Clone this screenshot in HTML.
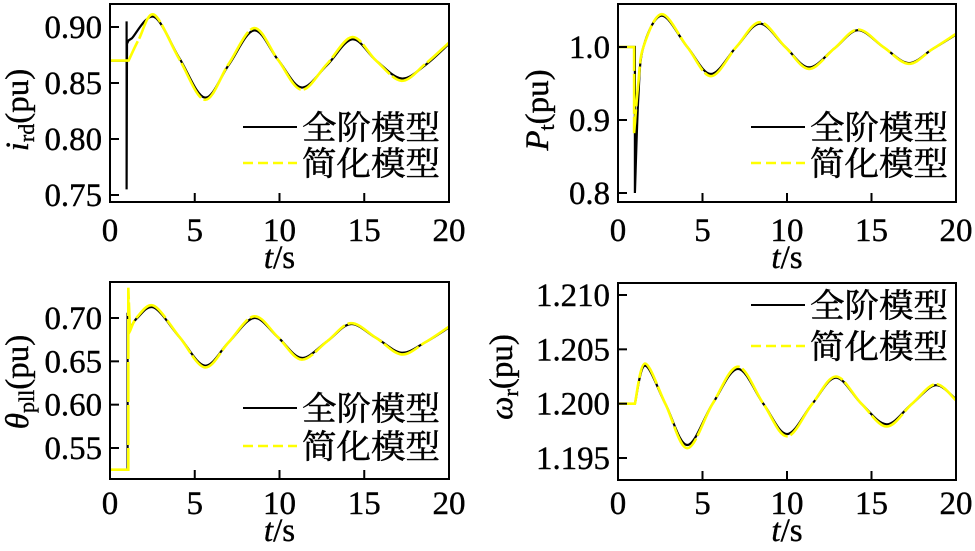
<!DOCTYPE html>
<html><head><meta charset="utf-8"><style>
html,body{margin:0;padding:0;background:#fff;}
svg{display:block;}
text{font-family:"Liberation Serif","Noto Serif CJK SC",serif;fill:#000;}
.tk{font-size:33px;stroke:#000;stroke-width:0.4px;}
.lg{font-size:33px;font-family:"Liberation Serif","Noto Serif CJK SC",serif;stroke:#000;stroke-width:0.5px;}
</style></head><body>
<svg id="chart" width="975" height="551" viewBox="0 0 975 551"></svg>
<script>
// ---- data ----
const xTicks = [0,5,10,15,20];
const xTickLabels = ["0","5","10","15","20"];
// panel 1: i_rd
const p1Ticks = [0.75,0.80,0.85,0.90];
const p1TickLabels = ["0.75","0.80","0.85","0.90"];
const p1FullTransT = [0,0.98,0.98,0.98,1.0,1.1,1.3];
const p1FullTransV = [0.87,0.87,0.905,0.755,0.885,0.888,0.890];
const p1FullT = [1.3,2.6,4.1,5.6,7.0,8.5,9.9,11.3,12.8,14.3,15.7,17.2,18.6,20];
const p1FullV = [0.890,0.909,0.872,0.837,0.866,0.897,0.871,0.846,0.866,0.889,0.870,0.854,0.866,0.885];
const p1SimpTransT = [0,1.1];
const p1SimpTransV = [0.87,0.87];
const p1SimpT = [1.1,1.7,2.6,4.1,5.6,7.0,8.5,9.9,11.3,12.8,14.3,15.7,17.2,18.6,20];
const p1SimpV = [0.870,0.889,0.911,0.871,0.835,0.867,0.899,0.871,0.844,0.867,0.891,0.870,0.852,0.867,0.886];
// panel 2: P_t
const p2Ticks = [0.8,0.9,1.0];
const p2TickLabels = ["0.8","0.9","1.0"];
const p2FullTransT = [0,1.0,1.0];
const p2FullTransV = [1.0,1.0,0.8];
const p2FullT = [1.0,1.2,1.5,2.6,4.1,5.5,7.0,8.4,9.9,11.3,12.8,14.2,15.7,17.2,18.6,20];
const p2FullV = [0.8,0.93,1.0,1.043,1.0,0.963,1.0,1.032,1.0,0.972,0.998,1.023,1.0,0.978,0.997,1.017];
const p2SimpTransT = [0,0.95,0.95];
const p2SimpTransV = [1.0,1.0,0.882];
const p2SimpT = [0.95,1.2,1.5,2.6,4.1,5.5,7.0,8.4,9.9,11.3,12.8,14.2,15.7,17.2,18.6,20];
const p2SimpV = [0.882,0.95,1.0,1.045,1.0,0.960,1.0,1.034,1.0,0.970,0.998,1.024,1.0,0.977,0.997,1.018];
// panel 3: theta_pll
const p3Ticks = [0.55,0.60,0.65,0.70];
const p3TickLabels = ["0.55","0.60","0.65","0.70"];
const p3FullTransT = [0,1.04,1.04,1.2];
const p3FullTransV = [0.525,0.525,0.706,0.688];
const p3FullT = [1.2,1.6,2.6,4.1,5.6,7.0,8.5,9.9,11.3,12.8,14.2,15.7,17.2,18.6,20];
const p3FullV = [0.688,0.700,0.712,0.678,0.645,0.672,0.700,0.678,0.654,0.673,0.693,0.677,0.660,0.672,0.689];
const p3SimpTransT = [0,1.08,1.08,1.18];
const p3SimpTransV = [0.525,0.525,0.735,0.685];
const p3SimpT = [1.18,1.6,2.6,4.1,5.6,7.0,8.5,9.9,11.3,12.8,14.2,15.7,17.2,18.6,20];
const p3SimpV = [0.685,0.701,0.714,0.678,0.643,0.672,0.702,0.678,0.652,0.673,0.694,0.677,0.658,0.672,0.690];
// panel 4: omega_r
const p4Ticks = [1.195,1.200,1.205,1.210];
const p4TickLabels = ["1.195","1.200","1.205","1.210"];
const p4FullTransT = [0,1.0];
const p4FullTransV = [1.2,1.2];
const p4FullT = [1.0,1.6,2.8,4.1,5.6,7.1,8.6,10.0,11.5,12.9,14.4,15.9,17.4,18.8,20];
const p4FullV = [1.2000,1.2035,1.2000,1.1962,1.2000,1.2032,1.2000,1.1972,1.2000,1.2024,1.2000,1.1981,1.2000,1.2017,1.2004];
const p4SimpTransT = [0,1.0];
const p4SimpTransV = [1.2,1.2];
const p4SimpT = [1.0,1.6,2.8,4.1,5.6,7.1,8.6,10.0,11.5,12.9,14.4,15.9,17.4,18.8,20];
const p4SimpV = [1.2000,1.2037,1.2000,1.1959,1.2000,1.2034,1.2000,1.1970,1.2000,1.2025,1.2000,1.1979,1.2000,1.2018,1.2003];

const NS = "http://www.w3.org/2000/svg";
const svg = document.getElementById("chart");
function mk(tag, attrs, parent){
  const e = document.createElementNS(NS, tag);
  for (const k in attrs) e.setAttribute(k, attrs[k]);
  (parent||svg).appendChild(e);
  return e;
}
function linScale(d0,d1,r0,r1){return v=>r0+(v-d0)/(d1-d0)*(r1-r0);}
function numWidth(s){let w=0;for(const c of s){w+= (c==='.')?8:16.5;}return w;}

const panels = [
  {name:"ird-panel", L:110,R:449,T:4,B:202, yA:0.90,yAp:27, yB:0.75,yBp:195, ticks:p1Ticks, labels:p1TickLabels,
   ft:p1FullTransT,fv:p1FullTransV,fT:p1FullT,fV:p1FullV, st:p1SimpTransT,sv:p1SimpTransV,sT:p1SimpT,sV:p1SimpV,
   leg1:127,leg2:163, ylab:["i","rd"], ylx:28, yly:110, tl:230},
  {name:"pt-panel", L:618,R:956,T:4,B:202, yA:1.0,yAp:47, yB:0.8,yBp:193, ticks:p2Ticks, labels:p2TickLabels,
   ft:p2FullTransT,fv:p2FullTransV,fT:p2FullT,fV:p2FullV, st:p2SimpTransT,sv:p2SimpTransV,sT:p2SimpT,sV:p2SimpV,
   leg1:127,leg2:163, ylab:["P","t"], ylx:548, yly:110, tl:230},
  {name:"theta-panel", L:110,R:449,T:282,B:479, yA:0.70,yAp:318, yB:0.55,yBp:448, ticks:p3Ticks, labels:p3TickLabels,
   ft:p3FullTransT,fv:p3FullTransV,fT:p3FullT,fV:p3FullV, st:p3SimpTransT,sv:p3SimpTransV,sT:p3SimpT,sV:p3SimpV,
   leg1:408,leg2:446, ylab:["θ","pll"], ylx:28, yly:382, tl:503},
  {name:"omega-panel", L:618,R:956,T:283,B:480, yA:1.210,yAp:295, yB:1.195,yBp:458, ticks:p4Ticks, labels:p4TickLabels,
   ft:p4FullTransT,fv:p4FullTransV,fT:p4FullT,fV:p4FullV, st:p4SimpTransT,sv:p4SimpTransV,sT:p4SimpT,sV:p4SimpV,
   leg1:305,leg2:346, ylab:["ω","r"], ylx:512, yly:377, tl:503}
];

function poly(ts,vs,x,y){return ts.map((t,i)=>(i?"L":"M")+x(t).toFixed(1)+","+y(vs[i]).toFixed(1)).join(" ");}
function smooth(ts,vs,x,y){
  const P = ts.map((t,i)=>[x(t),y(vs[i])]);
  let d = "M"+P[0][0].toFixed(1)+","+P[0][1].toFixed(1);
  for(let i=0;i<P.length-1;i++){
    const p0=P[i-1]||P[i], p1=P[i], p2=P[i+1], p3=P[i+2]||P[i+1];
    const c1=[p1[0]+(p2[0]-p0[0])/6, p1[1]+(p2[1]-p0[1])/6];
    const c2=[p2[0]-(p3[0]-p1[0])/6, p2[1]-(p3[1]-p1[1])/6];
    d+=" C"+c1[0].toFixed(1)+","+c1[1].toFixed(1)+" "+c2[0].toFixed(1)+","+c2[1].toFixed(1)+" "+p2[0].toFixed(1)+","+p2[1].toFixed(1);
  }
  return d;
}

panels.forEach(p=>{
  const g = mk("g",{});
  
  
  const x = linScale(0,20,p.L,p.R);
  const y = linScale(p.yA,p.yB,p.yAp,p.yBp);
  const id = "clip-"+p.name;
  const cp = mk("clipPath",{id:id},g);
  mk("rect",{x:p.L,y:p.T,width:p.R-p.L,height:p.B-p.T},cp);
  // legend
  const l1 = mk("line",{x1:p.L+133,x2:p.L+187,y1:p.leg1,y2:p.leg1,stroke:"#000","stroke-width":2},g);
  
  
  const t1 = mk("text",{x:p.L+192,y:p.leg1+12,class:"lg",textLength:138,lengthAdjust:"spacingAndGlyphs"},g);
  t1.textContent="全阶模型";
  
  
  const l2 = mk("line",{x1:p.L+133,x2:p.L+187,y1:p.leg2,y2:p.leg2,stroke:"#ffff00","stroke-width":2.5,"stroke-dasharray":"10,5"},g);
  
  
  const t2 = mk("text",{x:p.L+192,y:p.leg2+12,class:"lg",textLength:138,lengthAdjust:"spacingAndGlyphs"},g);
  t2.textContent="简化模型";
  
  
  // series
  const cg = mk("g",{"clip-path":"url(#"+id+")"},g);
  const bd = poly(p.ft,p.fv,x,y)+" "+smooth(p.fT,p.fV,x,y).replace(/^M/,"L");
  const b = mk("path",{d:bd,fill:"none",stroke:"#000","stroke-width":2.2},cg);
  
  
  const sd = poly(p.st,p.sv,x,y)+" "+smooth(p.sT,p.sV,x,y).replace(/^M/,"L");
  const s = mk("path",{d:sd,fill:"none",stroke:"#ffff00","stroke-width":2.6,"stroke-dasharray":"40,3"},cg);
  
  
  // frame
  const fr = mk("rect",{x:p.L,y:p.T,width:p.R-p.L,height:p.B-p.T,fill:"none",stroke:"#000","stroke-width":2},g);
  
  
  // x ticks
  xTicks.forEach((v,i)=>{
    const xx=x(v);
    if(i>0&&i<xTicks.length-1){
      const tk=mk("line",{x1:xx,x2:xx,y1:p.B,y2:p.B-9,stroke:"#000","stroke-width":2},g);
      
      
    }
    const lab=xTickLabels[i];
    const tl=mk("text",{x:xx,y:p.tl+11,"text-anchor":"middle",class:"tk",textLength:numWidth(lab),lengthAdjust:"spacingAndGlyphs"},g);
    tl.textContent=lab;
    
    
  });
  // y ticks
  p.ticks.forEach((v,i)=>{
    const yy=y(v);
    const tk=mk("line",{x1:p.L,x2:p.L+9,y1:yy,y2:yy,stroke:"#000","stroke-width":2},g);
    
    
    const lab=p.labels[i];
    const w=numWidth(lab);
    const tl=mk("text",{x:p.L-8-w,y:yy+11,class:"tk",textLength:w,lengthAdjust:"spacingAndGlyphs"},g);
    tl.textContent=lab;
    
    
  });
  // x title
  const xt=mk("text",{x:(p.L+p.R)/2,y:p.tl+38,"text-anchor":"middle",class:"tk"},g);
  xt.innerHTML='<tspan font-style="italic">t</tspan>/s';
  
  
  // y title
  const yt=mk("text",{x:0,y:0,"text-anchor":"middle",class:"tk",transform:"translate("+p.ylx+","+p.yly+") rotate(-90)"},g);
  yt.innerHTML='<tspan font-style="italic">'+p.ylab[0]+'</tspan><tspan font-size="22" dy="6">'+p.ylab[1]+'</tspan><tspan dy="-6">(pu)</tspan>';
  
  
});
</script>
</body></html>
